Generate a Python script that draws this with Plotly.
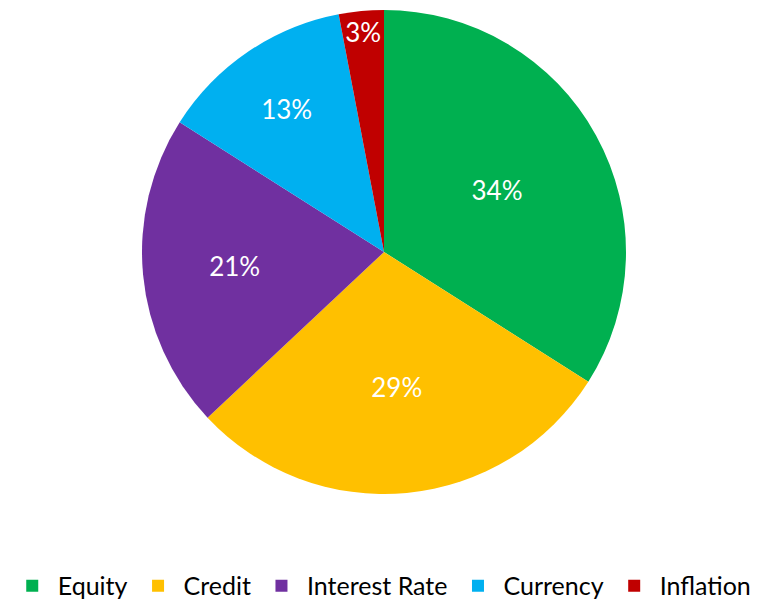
import plotly.graph_objects as go

labels = ["Equity", "Credit", "Interest Rate", "Currency", "Inflation"]
values = [34, 29, 21, 13, 3]
colors = ["#00B050", "#FFC000", "#7030A0", "#00B0F0", "#C00000"]

fig = go.Figure(go.Pie(
    labels=labels, values=values, sort=False, direction="clockwise", rotation=0,
    marker=dict(colors=colors, line=dict(width=0)),
    textinfo="percent", textposition="inside", insidetextorientation="horizontal",
    textfont=dict(color="white", size=26, family="Lato"),
    hoverinfo="label+percent",
))
fig.update_layout(
    width=760, height=595,
    margin=dict(l=0, r=8, t=2, b=109, autoexpand=False),
    paper_bgcolor="white", plot_bgcolor="white",
    font=dict(family="Lato", size=25, color="black"),
    legend=dict(orientation="h", x=0.497, xanchor="center", y=-0.19, yanchor="middle",
                font=dict(size=25), itemwidth=41, tracegroupgap=0),
    uniformtext=dict(minsize=26, mode="show"),
)
fig.write_html("out.html")
